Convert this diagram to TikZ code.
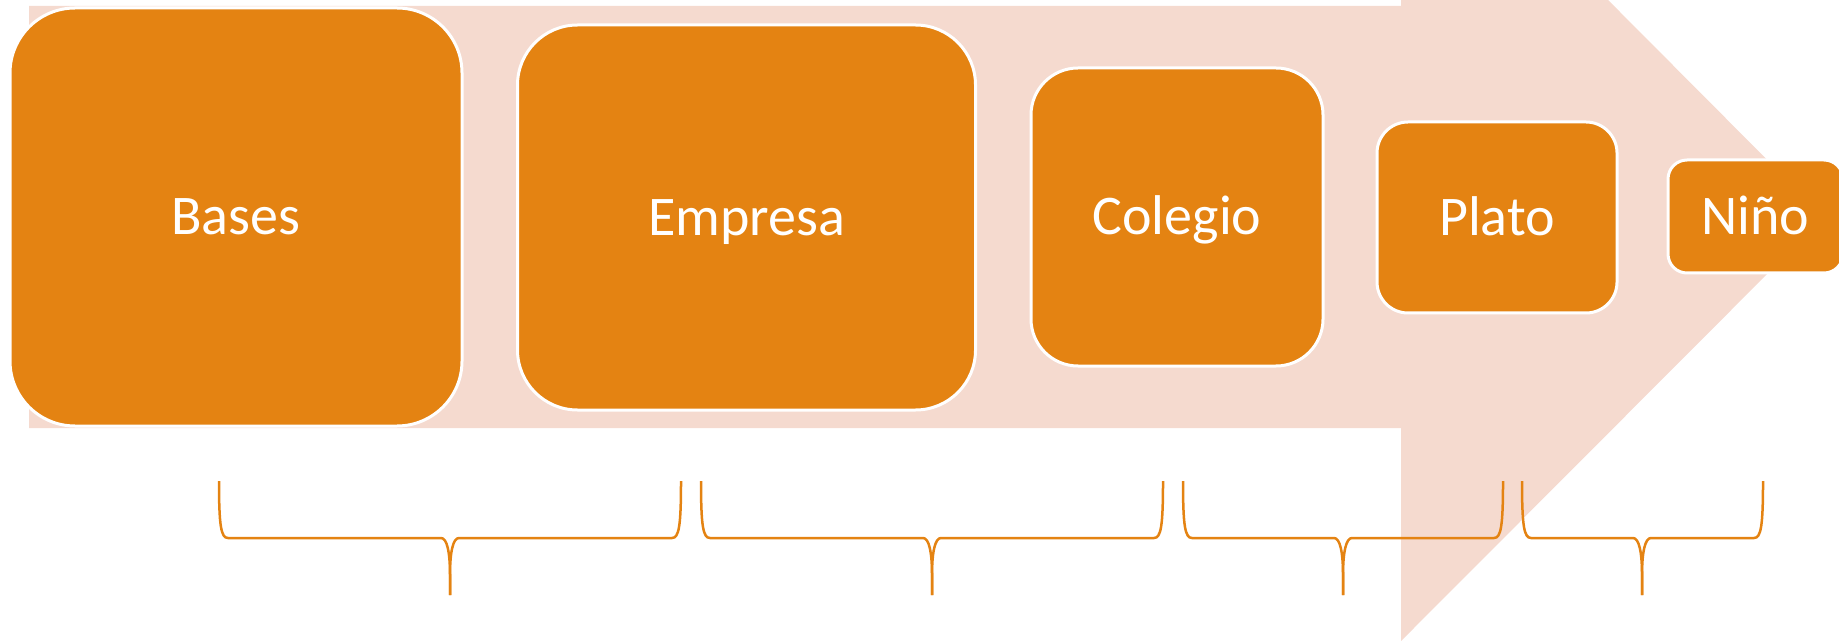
\documentclass[tikz,border=0pt]{standalone}
\usepackage{fontspec}
\setmainfont{Carlito}
\definecolor{boxorange}{HTML}{E48312}
\definecolor{arrowpink}{HTML}{F5DACF}
\newcommand\mybrace[3]{%
  \draw[bracestyle] (#1,481) .. controls (#1,526) and ({#1+2},538) .. ({#1+9},538)
    -- ({#2-9},538) .. controls ({#2-3},538) and (#2,552) .. (#2,575) -- (#2,595);
  \draw[bracestyle] (#2,595) -- (#2,575) .. controls (#2,552) and ({#2+3},538) .. ({#2+9},538)
    -- ({#3-9},538) .. controls ({#3-2},538) and (#3,526) .. (#3,481);}
\begin{document}
\begin{tikzpicture}[x=0.5pt,y=-0.5pt,
  box/.style={draw=white, line width=1.5pt, fill=boxorange, text=white,
    font=\fontsize{28}{34}\selectfont, inner sep=0pt,
    text height=17.7pt, text depth=0pt},
  bracestyle/.style={draw=boxorange, line width=1.25pt},
  arrowshape/.style={fill=arrowpink, draw=none}]
\useasboundingbox (0,0) rectangle (1839,641);
\clip (0,0) rectangle (1839,641);
% background arrow
\path[arrowshape] (29,6) -- (1401,6) -- (1401,-208) -- (1824,217) -- (1401,641)
  -- (1401,428) -- (29,428) -- cycle;
% boxes
\node[box, minimum width=226pt, minimum height=209pt, rounded corners=32.5pt]
  (bases) at (236,217) {Bases};
\node[box, minimum width=229pt, minimum height=192.5pt, rounded corners=30pt]
  (empresa) at (746.5,217.5) {Empresa};
\node[box, minimum width=146pt, minimum height=149pt, rounded corners=23.5pt]
  (colegio) at (1177,217) {Colegio};
\node[box, minimum width=120pt, minimum height=95.5pt, rounded corners=15.5pt]
  (plato) at (1497,217.5) {Plato};
\node[box, minimum width=87.5pt, minimum height=56.5pt, rounded corners=9.5pt]
  (nino) at (1755.5,216.5) {Niño};
% braces
\mybrace{219}{450}{681}
\mybrace{701}{932}{1163}
\mybrace{1183}{1343}{1503}
\mybrace{1522}{1642}{1763}
\end{tikzpicture}
\end{document}
